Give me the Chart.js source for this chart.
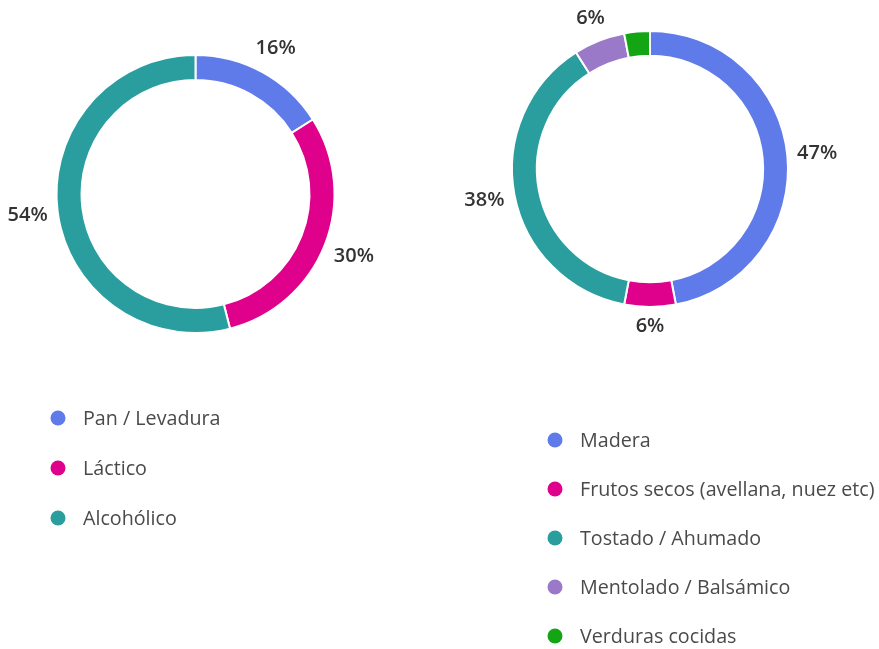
<!DOCTYPE html>
<html>
<head>
<meta charset="utf-8">
<script src="https://cdn.jsdelivr.net/npm/chart.js@4/dist/chart.umd.min.js"></script>
<style>
  html, body { margin: 0; padding: 0; background: #fff; }
  body { width: 879px; height: 649px; position: relative; overflow: hidden; }
  .box { position: absolute; top: 0; height: 649px; }
  #boxLeft { left: 0; width: 430px; }
  #boxRight { left: 430px; width: 449px; }
</style>
</head>
<body>
<div class="box" id="boxLeft"><canvas id="leftChart"></canvas></div>
<div class="box" id="boxRight"><canvas id="rightChart"></canvas></div>
<script>
  // left ring
  const leftLabels = ['Pan / Levadura', 'Láctico', 'Alcohólico'];
  const leftValues = [16, 30, 54];
  const leftColors = ['#5f7be9', '#df008c', '#2a9e9f'];

  // right ring
  const rightLabels = ['Madera', 'Frutos secos (avellana, nuez etc)', 'Tostado / Ahumado', 'Mentolado / Balsámico', 'Verduras cocidas'];
  const rightValues = [47, 6, 38, 6, 3];
  const rightColors = ['#5f7be9', '#df008c', '#2a9e9f', '#9a79c9', '#13a514'];

  // percentage labels outside the ring + legend list underneath
  const ringLabels = {
    id: 'ringLabels',
    afterDraw(chart, args, opts) {
      const ctx = chart.ctx;
      const meta = chart.getDatasetMeta(0);
      const values = chart.data.datasets[0].data;
      const colors = chart.data.datasets[0].backgroundColor;
      const total = values.reduce((a, b) => a + b, 0);
      ctx.save();
      ctx.font = '600 20px "Open Sans"';
      ctx.fillStyle = '#333';
      ctx.textAlign = 'center';
      ctx.textBaseline = 'middle';
      meta.data.forEach((arc, i) => {
        const pct = Math.round(values[i] / total * 100);
        if (pct < 5) return;
        const txt = pct + '%';
        const mid = (arc.startAngle + arc.endAngle) / 2;
        const dx = Math.cos(mid), dy = Math.sin(mid);
        const w = ctx.measureText(txt).width;
        const r = arc.outerRadius + 9 + Math.abs(dx) * w / 2 + Math.abs(dy) * 10;
        ctx.fillText(txt, arc.x + dx * r, arc.y + dy * r);
      });

      ctx.font = '19.7px "Open Sans"';
      ctx.textAlign = 'left';
      chart.data.labels.forEach((lab, i) => {
        const y = opts.y + i * opts.gap;
        ctx.beginPath();
        ctx.arc(opts.x, y, 7.5, 0, Math.PI * 2);
        ctx.fillStyle = colors[i];
        ctx.fill();
        ctx.fillStyle = '#4a4a4a';
        ctx.fillText(lab, opts.x + 25, y + 1);
      });
      ctx.restore();
    }
  };

  function makeRing(id, labels, values, colors, radius, padding, legend) {
    return new Chart(document.getElementById(id), {
      type: 'doughnut',
      data: {
        labels: labels,
        datasets: [{
          data: values,
          backgroundColor: colors,
          borderColor: '#fff',
          borderWidth: 2
        }]
      },
      options: {
        responsive: true,
        maintainAspectRatio: false,
        animation: false,
        radius: radius,
        cutout: '82%',
        layout: { padding: padding },
        plugins: {
          legend: { display: false },
          tooltip: { enabled: false },
          ringLabels: legend
        }
      },
      plugins: [ringLabels]
    });
  }

  makeRing('leftChart', leftLabels, leftValues, leftColors, 139,
    { left: 0, top: 0, right: 39, bottom: 261 },
    { x: 58, y: 418, gap: 50 });

  makeRing('rightChart', rightLabels, rightValues, rightColors, 138,
    { left: 0, top: 0, right: 9, bottom: 311 },
    { x: 125, y: 440, gap: 49 });
</script>
</body>
</html>
